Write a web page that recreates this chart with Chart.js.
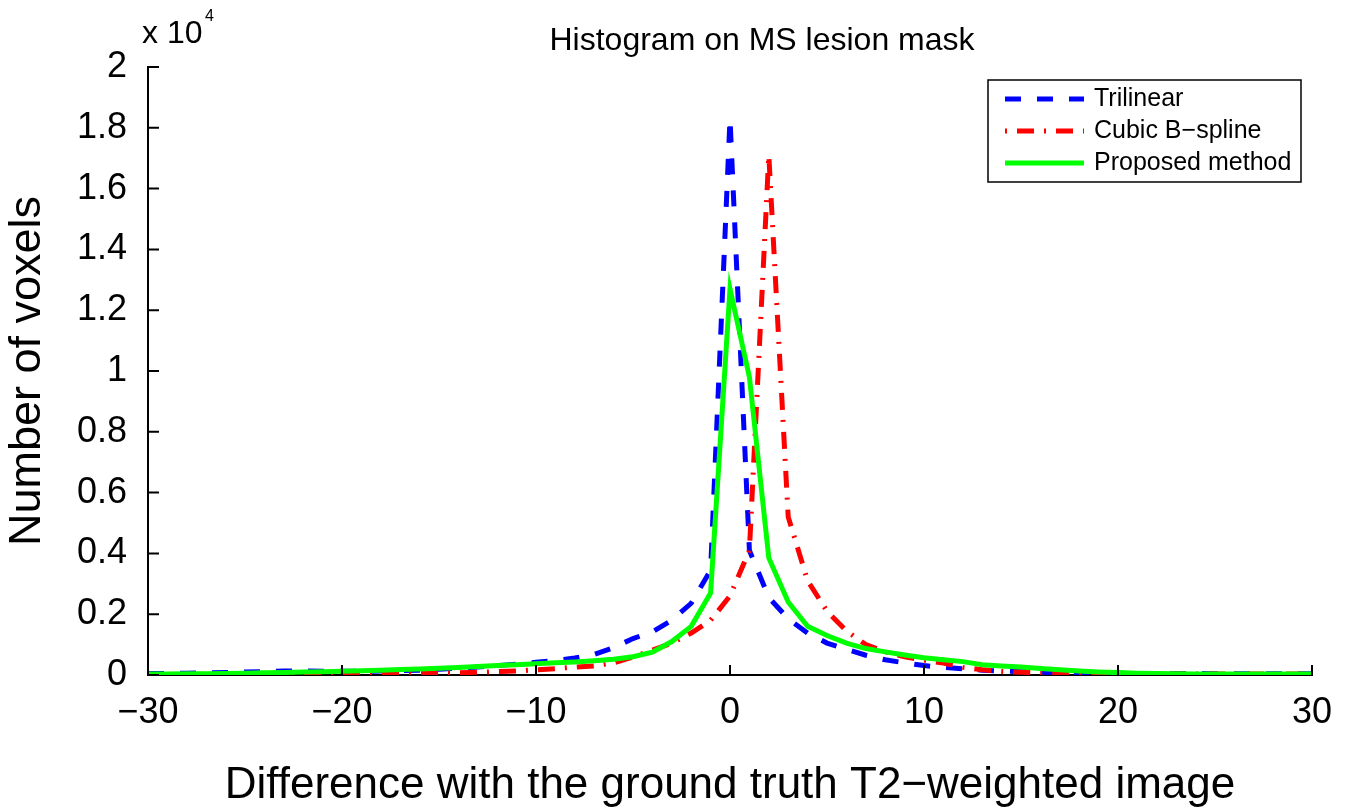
<!DOCTYPE html>
<html>
<head>
<meta charset="utf-8">
<script src="https://cdn.jsdelivr.net/npm/chart.js@4"></script>
<style>
  html, body { margin: 0; padding: 0; background: #fff; }
  canvas { display: block; }
</style>
</head>
<body>
<canvas id="grafico" width="1355" height="808"></canvas>
<script>
// ========= Dados (contagens em unidades de 10^4) =========
const diferencas = [
  -30, -29, -28, -27, -26, -25, -24, -23, -22, -21,
  -20, -19, -18, -17, -16, -15, -14, -13, -12, -11,
  -10, -9, -8, -7, -6, -5, -4, -3, -2, -1,
  0, 1, 2, 3, 4, 5, 6, 7, 8, 9,
  10, 11, 12, 13, 14, 15, 16, 17, 18, 19,
  20, 21, 22, 23, 24, 25, 26, 27, 28, 29, 30
];

const trilinear = [
  0.005, 0.005, 0.006, 0.007, 0.008, 0.010, 0.011, 0.013, 0.013, 0.012,
  0.012, 0.012, 0.013, 0.014, 0.016, 0.019, 0.022, 0.026, 0.031, 0.036,
  0.042, 0.048, 0.056, 0.068, 0.090, 0.120, 0.142, 0.180, 0.236, 0.345,
  1.830, 0.410, 0.255, 0.185, 0.138, 0.105, 0.085, 0.065, 0.050, 0.040,
  0.031, 0.025, 0.020, 0.016, 0.013, 0.011, 0.009, 0.008, 0.007, 0.006,
  0.006, 0.005, 0.005, 0.005, 0.005, 0.004, 0.004, 0.004, 0.004, 0.004, 0.004
];

const bspline = [
  0.002, 0.002, 0.002, 0.002, 0.002, 0.002, 0.003, 0.003, 0.003, 0.003,
  0.003, 0.003, 0.004, 0.004, 0.005, 0.006, 0.007, 0.009, 0.011, 0.013,
  0.017, 0.021, 0.026, 0.030, 0.040, 0.059, 0.082, 0.105, 0.138, 0.180,
  0.260, 0.410, 1.710, 0.520, 0.310, 0.210, 0.145, 0.100, 0.076, 0.060,
  0.049, 0.039, 0.025, 0.017, 0.012, 0.009, 0.007, 0.006, 0.005, 0.004,
  0.003, 0.003, 0.003, 0.003, 0.003, 0.003, 0.003, 0.003, 0.003, 0.003, 0.003
];

const proposto = [
  0.003, 0.003, 0.004, 0.004, 0.005, 0.006, 0.007, 0.008, 0.010, 0.011,
  0.012, 0.014, 0.016, 0.018, 0.020, 0.022, 0.025, 0.028, 0.031, 0.034,
  0.037, 0.040, 0.043, 0.047, 0.052, 0.060, 0.075, 0.110, 0.160, 0.270,
  1.270, 0.980, 0.385, 0.240, 0.160, 0.130, 0.105, 0.087, 0.076, 0.066,
  0.057, 0.050, 0.044, 0.034, 0.030, 0.026, 0.021, 0.017, 0.013, 0.010,
  0.008, 0.006, 0.005, 0.004, 0.003, 0.003, 0.003, 0.003, 0.003, 0.003, 0.003
];

const nomes = ["Trilinear", "Cubic B\u2212spline", "Proposed method"];
const ticksX = [-30, -20, -10, 0, 10, 20, 30];
const ticksY = [0, 0.2, 0.4, 0.6, 0.8, 1, 1.2, 1.4, 1.6, 1.8, 2];

const titulo = "Histogram on MS lesion mask";
const tituloX = "Difference with the ground truth T2\u2212weighted image";
const tituloY = "Number of voxels";

const FONTE = '"Liberation Sans", Arial, sans-serif';

// junta x e y em pontos
const pontos = (ys) => ys.map((y, i) => ({ x: diferencas[i], y }));

// ========= Plugin: ticks para dentro, título, x10^4 e legenda =========
const extras = {
  id: "extras",
  afterDraw(chart) {
    const { ctx, chartArea: a, scales } = chart;
    const sx = scales.x;
    const sy = scales.y;
    ctx.save();

    // ticks internos
    ctx.strokeStyle = "#000";
    ctx.lineWidth = 2;
    ctx.beginPath();
    for (const v of ticksX) {
      const px = sx.getPixelForValue(v);
      ctx.moveTo(px, a.bottom);
      ctx.lineTo(px, a.bottom - 10);
    }
    for (const v of ticksY) {
      const py = sy.getPixelForValue(v);
      ctx.moveTo(a.left, py);
      ctx.lineTo(a.left + 11, py);
    }
    ctx.stroke();

    // título
    ctx.fillStyle = "#000";
    ctx.textBaseline = "alphabetic";
    ctx.textAlign = "center";
    ctx.font = `32px ${FONTE}`;
    ctx.fillText(titulo, 762, 50);

    // multiplicador do eixo y
    ctx.textAlign = "left";
    ctx.font = `32px ${FONTE}`;
    ctx.fillText("x 10", 142, 43);
    ctx.font = `16px ${FONTE}`;
    ctx.fillText("4", 205, 21);

    // legenda
    const box = { x: 988, y: 80, w: 313, h: 102 };
    ctx.fillStyle = "#fff";
    ctx.fillRect(box.x, box.y, box.w, box.h);
    ctx.lineWidth = 1.5;
    ctx.strokeStyle = "#000";
    ctx.strokeRect(box.x, box.y, box.w, box.h);

    const linhas = [99, 131, 163];
    ctx.font = `25px ${FONTE}`;
    ctx.textBaseline = "middle";
    chart.data.datasets.forEach((ds, k) => {
      const ly = linhas[k];
      ctx.setLineDash(ds.borderDash || []);
      ctx.lineDashOffset = ds.legendOffset || 0;
      ctx.strokeStyle = ds.borderColor;
      ctx.lineWidth = ds.borderWidth;
      ctx.beginPath();
      ctx.moveTo(1005, ly);
      ctx.lineTo(1084, ly);
      ctx.stroke();
      ctx.setLineDash([]);
      ctx.fillStyle = "#000";
      ctx.fillText(ds.label, 1094, ly);
    });

    ctx.restore();
  },
};

// ========= Gráfico =========
new Chart(document.getElementById("grafico"), {
  type: "line",
  data: {
    datasets: [
      {
        label: nomes[0],
        data: pontos(trilinear),
        borderColor: "#0000ff",
        borderWidth: 5,
        borderDash: [16, 16],
        order: 3,
      },
      {
        label: nomes[1],
        data: pontos(bspline),
        borderColor: "#ff0000",
        borderWidth: 5,
        borderDash: [17, 10, 2, 10],
        legendOffset: 27,
        order: 2,
      },
      {
        label: nomes[2],
        data: pontos(proposto),
        borderColor: "#00ff00",
        borderWidth: 5,
        order: 1,
      },
    ],
  },
  options: {
    responsive: false,
    animation: false,
    events: [],
    elements: {
      point: { radius: 0 },
      line: { tension: 0, borderCapStyle: "butt", borderJoinStyle: "miter" },
    },
    layout: { padding: { top: 67, right: 43, left: 0, bottom: 0 } },
    plugins: {
      legend: { display: false },
      title: { display: false },
      tooltip: { enabled: false },
    },
    scales: {
      x: {
        type: "linear",
        min: -30,
        max: 30,
        afterBuildTicks: (s) => { s.ticks = ticksX.map((v) => ({ value: v })); },
        afterFit: (s) => { s.height = 133; },
        grid: { display: false, drawTicks: false },
        border: { display: true, color: "#000", width: 2 },
        ticks: {
          color: "#000",
          padding: 16,
          maxRotation: 0,
          font: { family: FONTE, size: 36 },
          callback: (v) => String(v).replace("-", "\u2212"),
        },
        title: {
          display: true,
          text: tituloX,
          color: "#000",
          font: { family: FONTE, size: 44, lineHeight: 1 },
          padding: { top: 0, bottom: 0 },
        },
      },
      y: {
        type: "linear",
        min: 0,
        max: 2,
        afterBuildTicks: (s) => { s.ticks = ticksY.map((v) => ({ value: v })); },
        afterFit: (s) => { s.width = 148; },
        grid: { display: false, drawTicks: false },
        border: { display: true, color: "#000", width: 2 },
        ticks: {
          color: "#000",
          padding: 21,
          font: { family: FONTE, size: 36 },
          callback: (v) => String(Number(v.toFixed(1))),
        },
        title: {
          display: true,
          text: tituloY,
          color: "#000",
          font: { family: FONTE, size: 45, lineHeight: 1 },
          padding: { top: 5, bottom: 0 },
        },
      },
    },
  },
  plugins: [extras],
});
</script>
</body>
</html>
